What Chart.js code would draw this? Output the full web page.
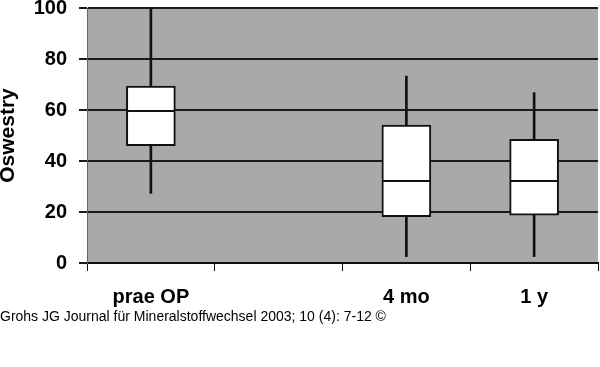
<!DOCTYPE html>
<html>
<head>
<meta charset="utf-8">
<script src="https://cdn.jsdelivr.net/npm/chart.js@4.4.0/dist/chart.umd.min.js"></script>
<style>
  html, body { margin: 0; padding: 0; background: #fff; }
  #wrap { position: relative; width: 600px; height: 367px; }
  #footer { position: absolute; left: 0; top: 308px; font: 14px "Liberation Sans", Arial, sans-serif; color: #000; white-space: nowrap; }
</style>
</head>
<body>
<div id="wrap">
  <canvas id="c" width="600" height="367"></canvas>
  <div id="footer">Grohs JG Journal für Mineralstoffwechsel 2003; 10 (4): 7-12 ©</div>
</div>
<script>
const categories = ['prae OP', '', '4 mo', '1 y'];
const whiskerLow  = [27.3, null, 2.5, 2.5];
const whiskerHigh = [100,  null, 73.3, 66.8];
const q1          = [46,   null, 18.2, 18.8];
const q3          = [69.4, null, 54.1, 48.5];
const median      = [59.6, null, 32.2, 32.2];
const yTicks      = [0, 20, 40, 60, 80, 100];
const yTitle      = 'Oswestry';

const pair = (a, b) => a.map((v, i) => (v === null ? null : [v, b[i]]));

const plotBg = {
  id: 'plotBg',
  beforeDraw(chart) {
    const { ctx, chartArea: a } = chart;
    ctx.save();
    ctx.fillStyle = '#a9a9a9';
    ctx.fillRect(a.left, a.top, a.right - a.left, a.bottom - a.top);
    ctx.restore();
  }
};

const font = { family: '"Liberation Sans", Arial, sans-serif', size: 20, weight: 'bold' };

new Chart(document.getElementById('c'), {
  type: 'bar',
  data: {
    labels: categories,
    datasets: [
      {
        type: 'line',
        data: median,
        showLine: false,
        pointStyle: 'line',
        pointRadius: 24,
        pointHoverRadius: 24,
        pointBorderWidth: 2,
        pointBorderColor: '#111',
        pointBackgroundColor: '#111',
        clip: false,
        order: 1
      },
      {
        data: pair(q1, q3),
        backgroundColor: '#ffffff',
        borderColor: '#111',
        borderWidth: 2,
        borderSkipped: false,
        barThickness: 49,
        grouped: false,
        order: 2
      },
      {
        data: pair(whiskerLow, whiskerHigh),
        backgroundColor: '#111',
        borderWidth: 0,
        barThickness: 2,
        grouped: false,
        order: 3
      }
    ]
  },
  options: {
    responsive: false,
    animation: false,
    events: [],
    layout: { autoPadding: false, padding: { top: 8, right: 2, left: 0, bottom: 0 } },
    plugins: { legend: { display: false }, tooltip: { enabled: false } },
    scales: {
      x: {
        offset: true,
        grid: { offset: true, drawOnChartArea: false, drawTicks: true, tickLength: 8, color: '#111', lineWidth: 1 },
        border: { display: true, color: '#111', width: 2 },
        ticks: { color: '#000', font: font, padding: 14, maxRotation: 0 },
        afterFit(s) { s.height = 104; s.paddingLeft = 0; s.paddingRight = 0; }
      },
      y: {
        min: 0,
        max: 100,
        afterBuildTicks(s) { s.ticks = yTicks.map(v => ({ value: v })); },
        grid: { color: '#1a1a1a', lineWidth: 2, tickLength: 8, drawTicks: true },
        border: { display: true, color: '#666', width: 1 },
        ticks: { color: '#000', font: font, padding: 12 },
        title: { display: true, text: yTitle, color: '#000', font: Object.assign({}, font, { size: 21, lineHeight: 1 }), padding: { top: -2, bottom: 0 } },
        afterFit(s) { s.width = 87; s.paddingTop = 0; s.paddingBottom = 0; }
      }
    }
  },
  plugins: [plotBg]
});
</script>
</body>
</html>
